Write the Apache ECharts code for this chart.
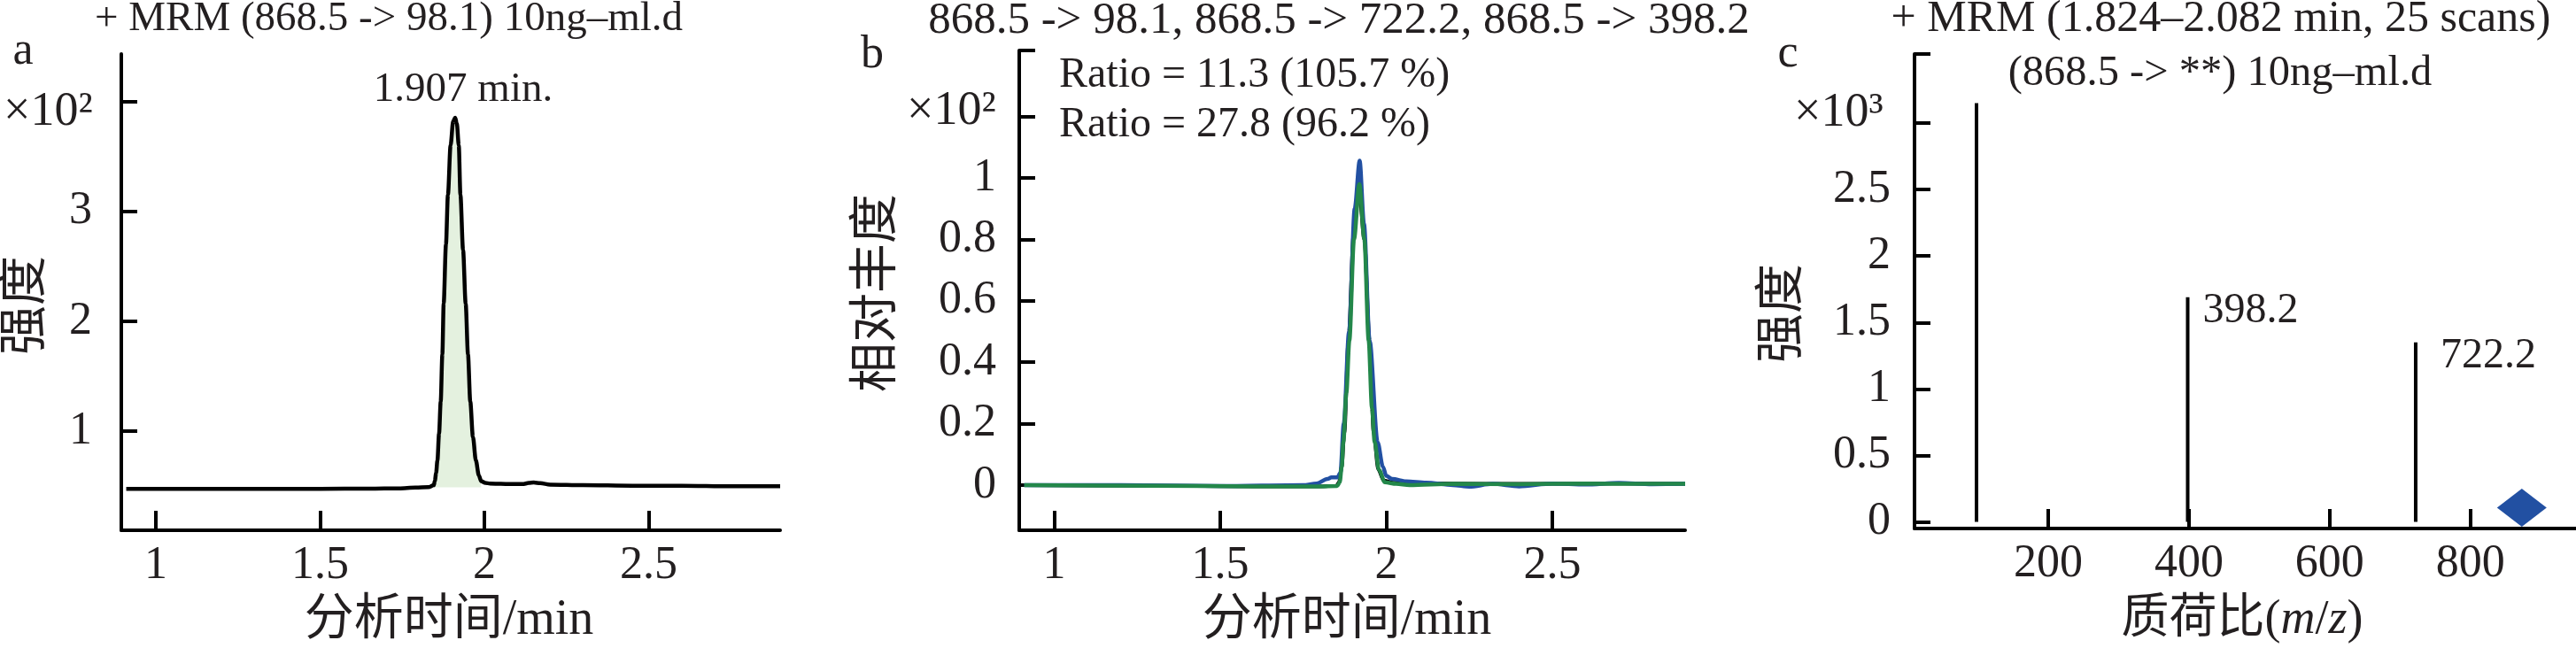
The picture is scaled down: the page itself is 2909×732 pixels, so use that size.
<!DOCTYPE html>
<html>
<head>
<meta charset="utf-8">
<script src="https://cdn.jsdelivr.net/npm/echarts@6/dist/echarts.min.js"></script>
<style>
html,body{margin:0;padding:0;background:#fff;}
#main{width:2909px;height:732px;}
</style>
</head>
<body>
<div id="main"></div>
<script>
// ---------- Panel a: MRM chromatogram 868.5 -> 98.1 ----------
const timeA = [0.91,1.10,1.30,1.50,1.65,1.74,1.79,1.83,1.846,1.849,1.853,1.857,1.862,1.867,1.872,1.876,1.883,1.889,1.897,1.905,1.911,1.916,1.922,1.927,1.935,1.943,1.950,1.957,1.965,1.974,1.983,1.990,2.003,2.017,2.05,2.08,2.116,2.135,2.15,2.17,2.20,2.30,2.45,2.60,2.75,2.90];
const intensityA = [0.477,0.477,0.477,0.477,0.478,0.481,0.488,0.492,0.51,0.547,0.62,0.735,0.98,1.27,1.70,2.16,2.70,3.15,3.60,3.82,3.85,3.80,3.60,3.15,2.65,2.16,1.70,1.27,0.95,0.735,0.60,0.547,0.53,0.525,0.522,0.52,0.52,0.53,0.534,0.528,0.515,0.51,0.505,0.505,0.50,0.50];
const peakFillStart = 1.846, peakFillEnd = 1.990;
const xTicksA = [1, 1.5, 2, 2.5];
const yTicksA = [1, 2, 3, 4];
const yLabelsA = [1, 2, 3];

// ---------- Panel b: overlay of three transitions (relative) ----------
const timeBlack = [0.91,1.30,1.60,1.80,1.850,1.858,1.866,1.874,1.886,1.902,1.918,1.934,1.950,1.962,1.976,1.992,2.02,2.10,2.30,2.60,2.90];
const relBlack  = [0.0,-0.002,-0.004,-0.004,-0.002,0.01,0.06,0.17,0.47,0.82,0.96,0.80,0.47,0.17,0.05,0.015,0.008,0.006,0.004,0.005,0.004];
const timeBlue = [0.91,1.20,1.50,1.75,1.79,1.823,1.835,1.853,1.862,1.872,1.888,1.905,1.920,1.933,1.950,1.974,1.990,2.000,2.018,2.06,2.12,2.20,2.25,2.32,2.40,2.50,2.60,2.70,2.80,2.90];
const relBlue  = [0.0,0.0,-0.003,0.0,0.005,0.02,0.025,0.025,0.04,0.20,0.50,0.90,1.056,0.85,0.47,0.14,0.06,0.03,0.02,0.012,0.008,0.0,-0.005,0.004,-0.004,0.005,0.002,0.007,0.003,0.004];
const timeGreen = [0.91,1.30,1.60,1.80,1.852,1.860,1.866,1.871,1.880,1.889,1.903,1.919,1.934,1.947,1.957,1.965,1.978,1.996,2.03,2.07,2.20,2.40,2.60,2.80,2.90];
const relGreen  = [0.0,-0.002,-0.004,-0.004,-0.003,0.009,0.06,0.141,0.30,0.471,0.80,0.98,0.80,0.471,0.25,0.141,0.05,0.009,0.004,0.0,0.004,0.003,0.005,0.004,0.004];
const xTicksB = [1, 1.5, 2, 2.5];
const yTicksB = [0, 0.2, 0.4, 0.6, 0.8, 1, 1.2, 1.415];
const yLabelsB = [0, 0.2, 0.4, 0.6, 0.8, 1];

// ---------- Panel c: product ion spectrum ----------
const mzC = [98.1, 398.2, 722.2];
const intensityC = [3.15, 1.69, 1.35];
const labelsC = ['', '398.2', '722.2'];
const precursorMz = [873];
const precursorIntensity = [0.107];
const xTicksC = [200, 400, 600, 800];
const yTicksC = [0, 0.5, 1, 1.5, 2, 2.5, 3, 3.52];
const yLabelsC = [0, 0.5, 1, 1.5, 2, 2.5];

// ---------- texts ----------
const titleA = '+ MRM (868.5 -> 98.1) 10ng\u2013ml.d';
const titleB = '868.5 -> 98.1, 868.5 -> 722.2, 868.5 -> 398.2';
const titleC = '+ MRM (1.824\u20132.082 min, 25 scans)';
const subtitleC = '(868.5 -> **) 10ng\u2013ml.d';
const ratioTexts = ['Ratio = 11.3 (105.7 %)', 'Ratio = 27.8 (96.2 %)'];
const peakLabelA = '1.907 min.';

const SERIF = "'Liberation Serif','Times New Roman','Noto Sans CJK SC',serif";
const INK = '#231f20';
const BLUE = '#2250a2';
const GREEN = '#23874a';
const FILL = '#e4f1df';

function pairs(xs, ys){ return xs.map((x,i)=>[x, ys[i]]); }

function baseX(grid, min, max, ticks){
  return {
    type:'value', gridIndex:grid, min:min, max:max,
    axisLine:{show:true, onZero:false, lineStyle:{color:'#000', width:4}},
    axisTick:{show:true, inside:true, length:22, lineStyle:{color:'#000', width:4}, customValues:ticks},
    axisLabel:{show:true, customValues:ticks, margin:14, fontSize:52, fontFamily:SERIF, color:INK},
    splitLine:{show:false}
  };
}
function baseY(grid, min, max, ticks, labels, margin){
  return {
    type:'value', gridIndex:grid, min:min, max:max,
    axisLine:{show:true, onZero:false, lineStyle:{color:'#000', width:4}},
    axisTick:{show:true, inside:true, length:18, lineStyle:{color:'#000', width:4}, customValues:ticks},
    axisLabel:{show:true, customValues:labels, margin:margin, fontSize:52, fontFamily:SERIF, color:INK},
    splitLine:{show:false}
  };
}

const fillData = pairs(timeA, intensityA).filter(p => p[0] >= peakFillStart && p[0] <= peakFillEnd);

function txt(x, y, text, size, align, extra){
  return Object.assign({
    type:'text', x:x, y:y, silent:true,
    style:{text:text, fontSize:size, fontFamily:SERIF, fill:INK, align:align||'center', verticalAlign:'middle'}
  }, extra||{});
}

const option = {
  backgroundColor:'#ffffff',
  animation:false,
  grid:[
    {left:137, top:61, width:744, height:538},
    {left:1151, top:57, width:752, height:542},
    {left:2162, top:61, width:747, height:536}
  ],
  xAxis:[
    baseX(0, 0.895, 2.9, xTicksA),
    baseX(1, 0.895, 2.9, xTicksB),
    baseX(2, 10, 950, xTicksC)
  ],
  yAxis:[
    baseY(0, 0.1, 4.43, yTicksA, yLabelsA, 33),
    baseY(1, -0.147, 1.415, yTicksB, yLabelsB, 26),
    baseY(2, -0.05, 3.52, yTicksC, yLabelsC, 27)
  ],
  series:[
    {type:'line', xAxisIndex:0, yAxisIndex:0, data:fillData, showSymbol:false, smooth:0.3, smoothMonotone:'x',
     lineStyle:{width:0}, areaStyle:{color:FILL, opacity:1, origin:0.49}, z:1},
    {type:'line', xAxisIndex:0, yAxisIndex:0, data:pairs(timeA, intensityA), showSymbol:false, smooth:0.3, smoothMonotone:'x',
     lineStyle:{color:'#000', width:4.5}, z:3},
    {type:'line', xAxisIndex:1, yAxisIndex:1, data:pairs(timeBlack, relBlack), showSymbol:false, smooth:0.3, smoothMonotone:'x',
     lineStyle:{color:'#000', width:4}, z:2},
    {type:'line', xAxisIndex:1, yAxisIndex:1, data:pairs(timeBlue, relBlue), showSymbol:false, smooth:0.3, smoothMonotone:'x',
     lineStyle:{color:BLUE, width:4.5}, z:3},
    {type:'line', xAxisIndex:1, yAxisIndex:1, data:pairs(timeGreen, relGreen), showSymbol:false, smooth:0.3, smoothMonotone:'x',
     lineStyle:{color:GREEN, width:4.5}, z:4},
    {type:'bar', xAxisIndex:2, yAxisIndex:2, barWidth:4, itemStyle:{color:'#000'},
     data: mzC.map((m,i)=>({
       value:[m, intensityC[i]],
       label:{show: labelsC[i] !== '', formatter: labelsC[i], position:[i===1?19:30, 16],
              align:'left', verticalAlign:'middle', fontSize:48, fontFamily:SERIF, color:INK}
     })), z:3},
    {type:'scatter', xAxisIndex:2, yAxisIndex:2, data:pairs(precursorMz, precursorIntensity),
     symbol:'diamond', symbolSize:[56,43], itemStyle:{color:BLUE, opacity:1}, z:4}
  ],
  graphic:[
    // titles
    txt(439, 22, titleA, 47),
    txt(1512, 24, titleB, 51),
    txt(2508, 22, titleC, 50),
    txt(2507, 83, subtitleC, 48.5),
    // panel letters
    txt(26, 58, 'a', 52),
    txt(985, 62, 'b', 52),
    txt(2019, 61, 'c', 52),
    // scale factors
    txt(4, 127, '\u00d710\u00b2', 54, 'left'),
    txt(1024, 126, '\u00d710\u00b2', 54, 'left'),
    txt(2026, 128, '\u00d710\u00b3', 54, 'left'),
    // annotations
    txt(523, 102, peakLabelA, 47),
    txt(1196, 85, ratioTexts[0], 48, 'left'),
    txt(1196, 141, ratioTexts[1], 48, 'left'),
    // axis names
    txt(507, 701, '分析时间/min', 56),
    txt(1521, 701, '分析时间/min', 56),
    {type:'text', x:2532, y:701, silent:true,
     style:{text:'质荷比({i|m}/{i|z})', fontSize:54, fontFamily:SERIF, fill:INK, align:'center', verticalAlign:'middle',
            rich:{i:{fontStyle:'italic', fontSize:54, fontFamily:SERIF, fill:INK}}}},
    txt(30, 345, '强度', 56, 'center', {rotation:Math.PI/2}),
    txt(991, 331, '相对丰度', 56, 'center', {rotation:Math.PI/2}),
    txt(2014, 354, '强度', 56, 'center', {rotation:Math.PI/2})
  ]
};

const chart = echarts.init(document.getElementById('main'), null, {renderer:'canvas'});
chart.setOption(option);
</script>
</body>
</html>
